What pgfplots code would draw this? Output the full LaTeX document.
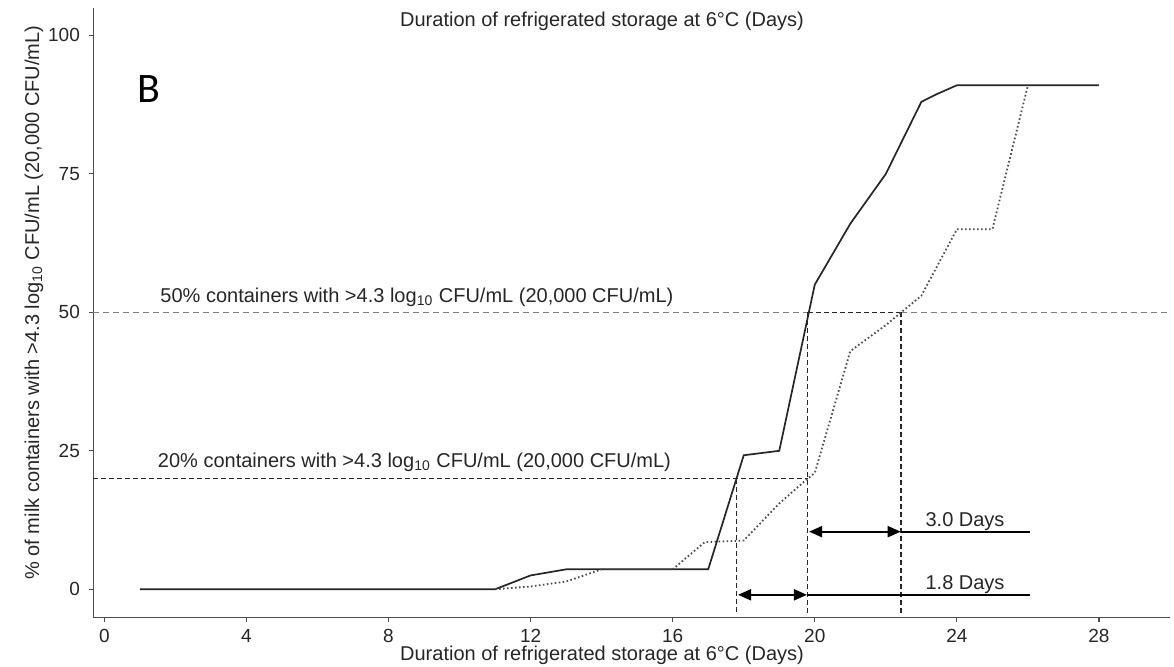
\documentclass[border=0pt]{standalone}
\usepackage{fontspec}
\setmainfont{Liberation Sans}
\newfontfamily\carlito{Carlito}
\usepackage{pgfplots}
\pgfplotsset{compat=1.18}
\usetikzlibrary{arrows.meta}

\begin{document}
\fontsize{10pt}{12pt}\selectfont
\begin{tikzpicture}
\begin{axis}[
  name=ax,
  at={(0,0)}, anchor=south west,
  scale only axis,
  width=538.35pt, height=304.7pt,
  xmin=-0.31, xmax=30.0,
  ymin=-5.13, ymax=104.9,
  axis lines=left,
  axis line style={-, line width=0.6pt, color=black!70},
  xtick={0,4,8,12,16,20,24,28},
  ytick={0,25,50,75,100},
  tick align=outside,
  major tick length=2.2pt,
  tick style={line width=0.6pt, color=black!70},
  ticklabel style={font=\fontsize{9.5pt}{11pt}\selectfont, text=black!85},
  yticklabel style={xshift=-1pt},
  /pgf/number format/assume math mode=true,
  xlabel={Duration of refrigerated storage at 6°C (Days)},
  xlabel style={at={(axis description cs:0.4725,-0.0612)}, anchor=center, text=black!85},
  ylabel={\% of milk containers with >4.3 log\textsubscript{10} CFU/mL (20,000 CFU/mL)},
  ylabel style={at={(axis description cs:-0.0551,0.517)}, anchor=center, text=black!85},
  clip=false,
]
% reference lines
\addplot[line width=0.65pt, color=black!50, dash pattern=on 3pt off 2pt] coordinates {(-0.31,50) (19.8,50)};
\addplot[line width=0.65pt, color=black!50, dash pattern=on 3pt off 2pt] coordinates {(22.42,50) (30,50)};
\addplot[line width=0.8pt, color=black!85, dash pattern=on 2.5pt off 1.5pt] coordinates {(19.8,50) (22.42,50)};
\addplot[line width=0.8pt, color=black!85, dash pattern=on 2.5pt off 1.5pt] coordinates {(-0.31,20) (19.8,20)};
\addplot[line width=0.8pt, color=black!85, dash pattern=on 2.5pt off 1.5pt] coordinates {(17.8,20) (17.8,-4.5)};
\addplot[line width=0.8pt, color=black!85, dash pattern=on 2.5pt off 1.5pt] coordinates {(19.8,50) (19.8,-4.5)};
\addplot[line width=0.8pt, color=black!85, dash pattern=on 2.5pt off 1.5pt] coordinates {(22.42,50) (22.42,-4.5)};
% solid curve
\addplot[line width=0.85pt, color=black!85] coordinates {
 (1,0) (11,0) (12,2.5) (13,3.6) (17,3.6) (18,24.2) (19,25) (20,55) (21,66) (22,75) (23,88) (23.4,89.3) (24,91) (28,91)};
% dotted curve
\addplot[line width=0.9pt, color=black!70, dash pattern=on 0.8pt off 1.2pt] coordinates {
 (11,0) (12,0.5) (13,1.4) (14,3.6) (16,3.6) (16.9,8.5) (18,8.8) (19,15.5) (19.8,20) (20,21) (21,43) (22,47.7) (23,53) (24,65) (25,65) (26,91)};
% arrows
\addplot[line width=1pt, color=black, {Triangle[length=6.5pt,width=5.5pt]}-{Triangle[length=6.5pt,width=5.5pt]}] coordinates {(19.84,10.4) (22.42,10.4)};
\addplot[line width=1pt, color=black] coordinates {(22.42,10.4) (26.05,10.4)};
\addplot[line width=1pt, color=black, {Triangle[length=6.5pt,width=5.5pt]}-{Triangle[length=6.5pt,width=5.5pt]}] coordinates {(17.84,-1.0) (19.78,-1.0)};
\addplot[line width=1pt, color=black] coordinates {(19.78,-1.0) (26.05,-1.0)};
% texts
\node[anchor=base west, inner sep=0pt, text=black!85] at (axis cs:1.57,51.7) {50\% containers with >4.3 log\textsubscript{10} CFU/mL (20,000 CFU/mL)};
\node[anchor=base west, inner sep=0pt, text=black!85] at (axis cs:1.5,22.0) {20\% containers with >4.3 log\textsubscript{10} CFU/mL (20,000 CFU/mL)};
\node[anchor=base, inner sep=0pt, text=black!85] at (axis cs:24.23,11.3) {3.0 Days};
\node[anchor=base, inner sep=0pt, text=black!85] at (axis cs:24.23,-0.13) {1.8 Days};
\node[anchor=center, inner sep=0pt, font=\carlito\fontsize{21pt}{24pt}\selectfont] at (axis cs:1.26,90.4) {B};
\node[anchor=center, inner sep=0pt, text=black!85] at (axis description cs:0.4725,0.979) {Duration of refrigerated storage at 6°C (Days)};
\end{axis}
\pgfresetboundingbox
\path (-46.65pt,-24.65pt) rectangle (540.35pt,308.85pt);
\end{tikzpicture}
\end{document}
